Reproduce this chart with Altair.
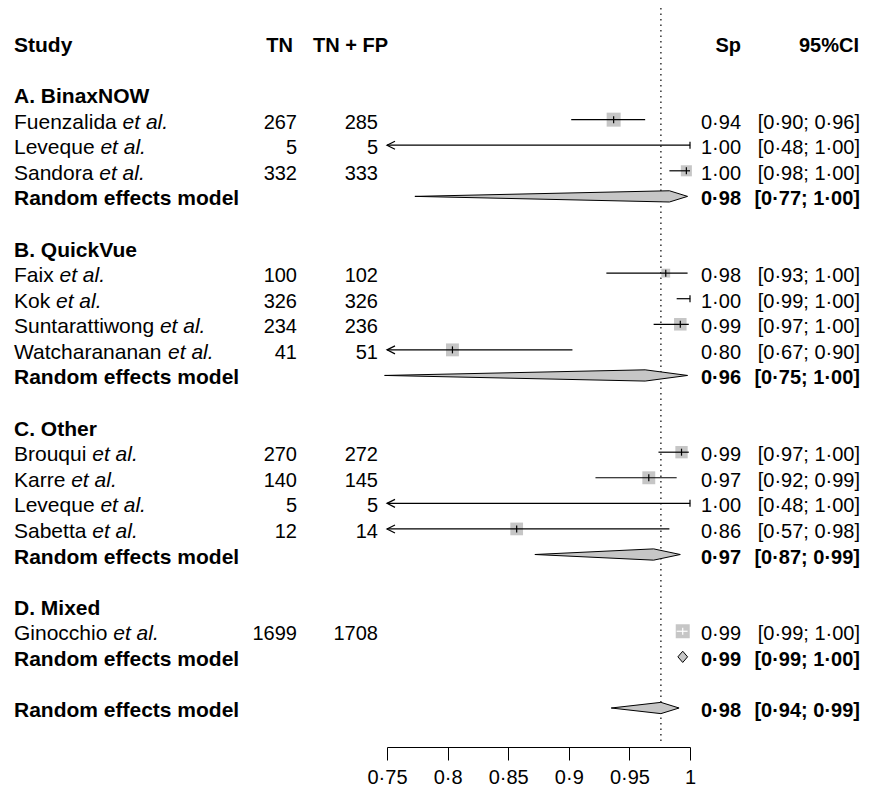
import math
import altair as alt
import pandas as pd

# ---------------- data ----------------
groups = ["A. BinaxNOW", "B. QuickVue", "C. Other", "D. Mixed"]
study = ["Fuenzalida", "Leveque", "Sandora", "Faix", "Kok", "Suntarattiwong",
         "Watcharananan", "Brouqui", "Karre", "Leveque", "Sabetta", "Ginocchio"]
study_group = [0, 0, 0, 1, 1, 1, 1, 2, 2, 2, 2, 3]
tn = [267, 5, 332, 100, 326, 234, 41, 270, 140, 5, 12, 1699]
tn_fp = [285, 5, 333, 102, 326, 236, 51, 272, 145, 5, 14, 1708]
sp = [0.937, 1.000, 0.997, 0.980, 1.000, 0.992, 0.804, 0.993, 0.966, 1.000, 0.857, 0.994]
sp_lo = [0.902, 0.478, 0.983, 0.931, 0.989, 0.970, 0.672, 0.974, 0.922, 0.478, 0.572, 0.989]
sp_hi = [0.963, 1.000, 1.000, 0.998, 1.000, 0.999, 0.903, 0.999, 0.989, 1.000, 0.983, 0.998]
weight = [40, 0.3, 25, 16, 0.3, 32, 34, 31, 34, 0.3, 33, 40]
re_est = [0.983, 0.963, 0.970, 0.994]
re_lo = [0.773, 0.748, 0.872, 0.990]
re_hi = [0.998, 0.998, 0.992, 0.998]
overall_est, overall_lo, overall_hi = 0.976, 0.935, 0.991
tick_values = [0.75, 0.8, 0.85, 0.9, 0.95, 1.0]

# ---------------- style / layout ----------------
FONT = "Liberation Sans"
FS = 20          # numbers, CI, axis
FS_L = 21        # left label column
X_DOMAIN = [0.75, 1.0]
X_RANGE = [379, 682]
PX_PER_UNIT = (X_RANGE[1] - X_RANGE[0]) / (X_DOMAIN[1] - X_DOMAIN[0])
BOX_MAX_AREA = 196
BOX_MAX_W = 40
DIAMOND_HALF = 0.22
GRAY = "#c6c6c6"
LEFT = 6
WIDTH, HEIGHT = 853, 739

# Arial / Liberation Sans advance widths (1/1000 em) for the study names
W = {"F": 611, "u": 556, "e": 556, "n": 556, "z": 500, "a": 556, "l": 222, "i": 222,
     "d": 556, " ": 278, "L": 556, "v": 500, "q": 556, "S": 667, "o": 556, "r": 333,
     "x": 500, "K": 667, "k": 500, "t": 278, "w": 722, "g": 556, "W": 944, "c": 500,
     "h": 556, "B": 667, "G": 778, "b": 556}


def text_w(s, fs):
    return sum(W.get(ch, 556) for ch in s) * fs / 1000.0


# ---------------- tables ----------------
group_rows, study_rows, model_rows = [], [], []
r = 0
for g, gname in enumerate(groups):
    group_rows.append(dict(row=r, label=gname))
    r += 1
    for i in range(len(study)):
        if study_group[i] == g:
            side = math.sqrt(weight[i] * BOX_MAX_AREA / BOX_MAX_W)
            x0 = max(sp_lo[i], X_DOMAIN[0])
            inside = (sp_hi[i] - x0) * PX_PER_UNIT <= side
            study_rows.append(dict(
                row=r, label=study[i], tn=str(tn[i]), tnfp=str(tn_fp[i]),
                est=sp[i], lo=sp_lo[i], hi=sp_hi[i], x0=x0, w=weight[i],
                arrow=bool(sp_lo[i] < X_DOMAIN[0]), lc="white" if inside else "black",
                etal_px=LEFT + text_w(study[i] + " ", FS_L)))
            r += 1
    model_rows.append(dict(row=r, label="Random effects model",
                           est=re_est[g], lo=re_lo[g], hi=re_hi[g]))
    r += 2
model_rows.append(dict(row=r, label="Random effects model",
                       est=overall_est, lo=overall_lo, hi=overall_hi))

studies_df = pd.DataFrame(study_rows)
models_df = pd.DataFrame(model_rows)
groups_df = pd.DataFrame(group_rows)

dia = []
for k, m in enumerate(model_rows):
    dia.append(dict(did=k, dx=m["lo"], ytop=m["row"], ybot=m["row"]))
    dia.append(dict(did=k, dx=m["est"], ytop=m["row"] - DIAMOND_HALF, ybot=m["row"] + DIAMOND_HALF))
    dia.append(dict(did=k, dx=m["hi"], ytop=m["row"], ybot=m["row"]))
dia_df = pd.DataFrame(dia)

header_df = pd.DataFrame([dict(row=-2)])

# ---------------- scales ----------------
xs = alt.Scale(domain=X_DOMAIN, range=X_RANGE, nice=False, zero=False)
ys = alt.Scale(domain=[-2, 24], range=[34.9, 700.0], nice=False, zero=False)
X_AX = alt.Axis(values=tick_values,
                labelExpr="replace(format(datum.value, '~g'), '.', '·')",
                tickSize=13, labelPadding=23, labelBaseline="alphabetic",
                labelFlush=False, labelAlign="center",
                title=None, grid=False, labelOverlap=False,
                domainColor="black", tickColor="black", labelColor="black",
                labelFont=FONT, labelFontSize=FS, domainWidth=1, tickWidth=1)
Y = alt.Y("row:Q", scale=ys, axis=None)

FMT = "replace(format(datum.{f}, '.2f'), '.', '·')"
SP_TXT = FMT.format(f="est")
CI_TXT = "'[' + " + FMT.format(f="lo") + " + '; ' + " + FMT.format(f="hi") + " + ']'"

# ---------------- layers ----------------
ref = alt.Chart(header_df).transform_calculate(v=str(overall_est)).mark_rule(
    color="black", strokeDash=[1.5, 4], strokeWidth=1.2
).encode(x=alt.X("v:Q", scale=xs, axis=X_AX), y=alt.value(0), y2=alt.value(735))

squares = alt.Chart(studies_df).mark_square(color=GRAY, opacity=1).encode(
    x=alt.X("est:Q", scale=xs, axis=X_AX), y=Y,
    size=alt.Size("w:Q", scale=alt.Scale(domain=[0, BOX_MAX_W], range=[0, BOX_MAX_AREA]), legend=None))

lines = alt.Chart(studies_df).mark_rule(strokeWidth=1.2).encode(
    x=alt.X("x0:Q", scale=xs, axis=X_AX), x2="hi:Q", y=Y,
    color=alt.Color("lc:N", scale=None))

arrows = alt.Chart(studies_df).transform_filter("datum.arrow").mark_point(
    shape="M2,-1L0,0L2,1", filled=False, size=64, strokeWidth=1.2, color="black", opacity=1
).encode(x=alt.X("x0:Q", scale=xs, axis=X_AX), y=Y)

ticks = alt.Chart(studies_df).mark_tick(orient="vertical", size=7, thickness=1.2, opacity=1).encode(
    x=alt.X("est:Q", scale=xs, axis=X_AX), y=Y, color=alt.Color("lc:N", scale=None))

diamonds = alt.Chart(dia_df).mark_area(orient="vertical", fill=GRAY, stroke="black",
                                       strokeWidth=1, opacity=1, fillOpacity=1).encode(
    x=alt.X("dx:Q", scale=xs, axis=X_AX), y=alt.Y("ytop:Q", scale=ys, axis=None),
    y2="ybot:Q", detail="did:N")


def txt(df, field, x, align="left", bold=False, italic=False, expr=None, xfield=None, fs=FS):
    ch = alt.Chart(df)
    if expr is not None:
        ch = ch.transform_calculate(t=expr)
        field = "t"
    m = ch.mark_text(font=FONT, fontSize=fs, align=align, baseline="alphabetic", dy=9,
                     fontWeight="bold" if bold else "normal",
                     fontStyle="italic" if italic else "normal", color="black")
    xenc = alt.X(f"{xfield}:Q", scale=None) if xfield else alt.value(x)
    return m.encode(x=xenc, y=Y, text=alt.Text(f"{field}:N"))


texts = [
    txt(header_df, None, LEFT, bold=True, expr="'Study'", fs=FS_L),
    txt(header_df, None, 285, align="right", bold=True, expr="'TN'"),
    txt(header_df, None, 380, align="right", bold=True, expr="'TN + FP'"),
    txt(header_df, None, 733, align="right", bold=True, expr="'Sp'"),
    txt(header_df, None, 851, align="right", bold=True, expr="'95%CI'"),
    txt(groups_df, "label", LEFT, bold=True, fs=FS_L),
    txt(studies_df, "label", LEFT, fs=FS_L),
    txt(studies_df, None, None, italic=True, expr="'et al.'", xfield="etal_px", fs=FS_L),
    txt(studies_df, "tn", 289, align="right"),
    txt(studies_df, "tnfp", 370, align="right"),
    txt(studies_df, None, 733, align="right", expr=SP_TXT),
    txt(studies_df, None, 852, align="right", expr=CI_TXT),
    txt(models_df, "label", LEFT, bold=True, fs=FS_L),
    txt(models_df, None, 733, align="right", bold=True, expr=SP_TXT),
    txt(models_df, None, 852, align="right", bold=True, expr=CI_TXT),
]

chart = alt.layer(ref, squares, lines, arrows, ticks, diamonds, *texts).properties(
    width=WIDTH, height=HEIGHT, autosize=alt.AutoSizeParams(type="none"),
    padding={"left": 0, "top": 0, "right": 0, "bottom": 41}
).configure_view(stroke=None).configure_axis(grid=False)

chart.save("out.html", embed_options={"renderer": "svg", "actions": False})
